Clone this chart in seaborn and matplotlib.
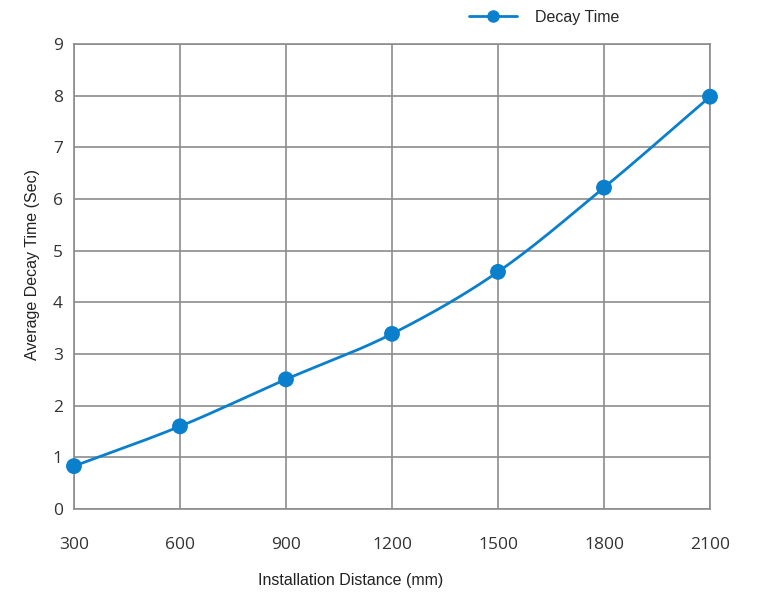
import numpy as np
import pandas as pd
import seaborn as sns
import matplotlib.pyplot as plt
from matplotlib.lines import Line2D

# datos
distancia = [300, 600, 900, 1200, 1500, 1800, 2100]
decay_time = [0.83, 1.60, 2.51, 3.39, 4.59, 6.22, 7.98]
x_ticks = [300, 600, 900, 1200, 1500, 1800, 2100]
y_ticks = list(range(0, 10))

color = "#0a7fcc"
grid_color = "#8c8c8c"

df = pd.DataFrame({"distancia": distancia, "decay": decay_time})

sns.set_style("white")
plt.rcParams["font.family"] = ["Liberation Sans", "DejaVu Sans"]

fig = plt.figure(figsize=(7.61, 5.97), dpi=100)
ax = fig.add_axes([0.0972, 0.1474, 0.8358, 0.7789])


# curva suavizada (catmull-rom) entre los puntos
def catmull_rom(xs, ys, n=30):
    xs = np.asarray(xs, float)
    ys = np.asarray(ys, float)
    px = np.concatenate([[2 * xs[0] - xs[1]], xs, [2 * xs[-1] - xs[-2]]])
    py = np.concatenate([[2 * ys[0] - ys[1]], ys, [2 * ys[-1] - ys[-2]]])
    out_x, out_y = [], []
    t = np.linspace(0, 1, n)
    for i in range(1, len(px) - 2):
        for p, out in ((px, out_x), (py, out_y)):
            p0, p1, p2, p3 = p[i - 1], p[i], p[i + 1], p[i + 2]
            out.extend(0.5 * (2 * p1 + (-p0 + p2) * t
                              + (2 * p0 - 5 * p1 + 4 * p2 - p3) * t ** 2
                              + (-p0 + 3 * p1 - 3 * p2 + p3) * t ** 3))
    return out_x, out_y


cx, cy = catmull_rom(distancia, decay_time)
ax.plot(cx, cy, color=color, lw=2, zorder=3, clip_on=False)
sns.scatterplot(data=df, x="distancia", y="decay", color=color, s=130,
                edgecolor="none", zorder=4, clip_on=False, ax=ax)

ax.set_xlim(300, 2100)
ax.set_ylim(0, 9)
ax.set_xticks(x_ticks)
ax.set_yticks(y_ticks)
ax.grid(True, color=grid_color, lw=1.2)
for s in ax.spines.values():
    s.set_color(grid_color)
    s.set_linewidth(1.2)
ax.tick_params(length=0, labelsize=12.5, labelcolor="#333333")
ax.tick_params(axis="x", pad=20)
ax.tick_params(axis="y", pad=8)
for lab in ax.get_xticklabels() + ax.get_yticklabels():
    lab.set_family(["Open Sans", "DejaVu Sans"])
ax.get_xticklabels()[0].set_x(300)
ax.set_xlabel("")
ax.set_ylabel("")

# etiquetas de ejes en posiciones del original
fig.text(351 / 761, 1 - 581 / 597, "Installation Distance (mm)", fontsize=11.5,
         color="#222222", ha="center", va="center")
fig.text(33 / 761, 1 - 265 / 597, "Average Decay Time (Sec)", fontsize=11.5,
         color="#222222", ha="center", va="center", rotation=90)

handle = Line2D([], [], color=color, lw=2, marker="o", markersize=8)
fig.legend([handle], ["Decay Time"], loc="center", bbox_to_anchor=(0.715, 0.971),
           frameon=False, fontsize=11.5, handlelength=3.0, handletextpad=1.1)

fig.savefig("out.png", dpi=100)
